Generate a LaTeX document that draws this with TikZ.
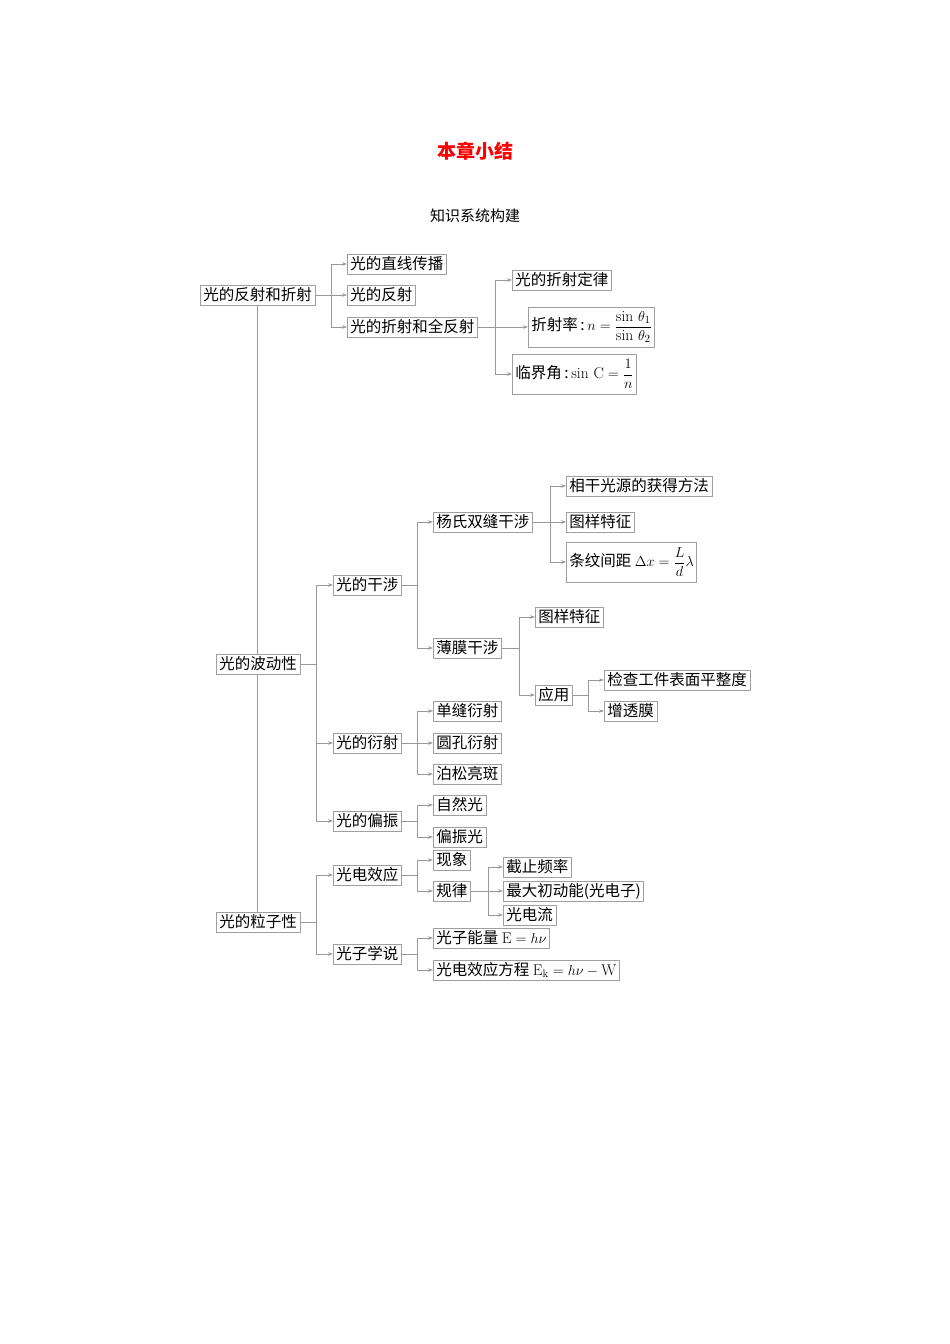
\documentclass[tikz,border=0pt]{standalone}
\usepackage{amsmath}
\usepackage{fontspec}
\newfontfamily\cjk{Noto Sans CJK SC}
\usetikzlibrary{arrows.meta,backgrounds}
\begin{document}
\begin{tikzpicture}[x=1pt,y=-1pt,
  bx/.style={draw=gray!75,line width=0.8pt,fill=white,anchor=west,inner xsep=3pt,inner ysep=1pt,minimum height=20pt,font=\cjk\fontsize{15.5}{17}\selectfont},
  ln/.style={draw=gray!80,line width=0.7pt},
  ar/.style={ln,-{Stealth[length=5pt,width=3.5pt]}}]
\useasboundingbox (0,0) rectangle (950,1344);
\node[font=\cjk\bfseries\fontsize{19}{22}\selectfont,text=red] (t) at (475,151) {本章小结};
\node[font=\cjk\fontsize{15}{18}\selectfont] (t2) at (475,216) {知识系统构建};
% level 0
\node[bx] (A) at (200,295) {光的反射和折射};
\node[bx] (B) at (216,664) {光的波动性};
\node[bx] (C) at (216,922) {光的粒子性};
% A
\node[bx] (a1) at (347,264) {光的直线传播};
\node[bx] (a2) at (347,295) {光的反射};
\node[bx] (a3) at (347,327) {光的折射和全反射};
\node[bx] (a31) at (512,280) {光的折射定律};
\node[bx,minimum height=40pt] (a32) at (528,327) {折射率\,:\,$n=\dfrac{\sin\,\theta_1}{\sin\,\theta_2}$};
\node[bx,minimum height=40pt] (a33) at (512,374) {临界角\,:\,$\sin\,\mathrm{C}=\dfrac{1}{n}$};
% B
\node[bx] (b1) at (333,585) {光的干涉};
\node[bx] (b2) at (333,743) {光的衍射};
\node[bx] (b3) at (333,821) {光的偏振};
\node[bx] (b11) at (433,522) {杨氏双缝干涉};
\node[bx] (b12) at (433,648) {薄膜干涉};
\node[bx] (b111) at (566,486) {相干光源的获得方法};
\node[bx] (b112) at (566,522) {图样特征};
\node[bx,minimum height=40pt] (b113) at (566,562) {条纹间距 $\Delta x=\dfrac{L}{d}\lambda$};
\node[bx] (b121) at (535,617) {图样特征};
\node[bx] (b122) at (535,695) {应用};
\node[bx] (b1221) at (604,680) {检查工件表面平整度};
\node[bx] (b1222) at (604,711) {增透膜};
\node[bx] (b21) at (433,711) {单缝衍射};
\node[bx] (b22) at (433,743) {圆孔衍射};
\node[bx] (b23) at (433,774) {泊松亮斑};
\node[bx] (b31) at (433,805) {自然光};
\node[bx] (b32) at (433,837) {偏振光};
% C
\node[bx] (c1) at (333,875) {光电效应};
\node[bx] (c2) at (333,954) {光子学说};
\node[bx] (c11) at (433,860) {现象};
\node[bx] (c12) at (433,891) {规律};
\node[bx] (c121) at (503,867) {截止频率};
\node[bx] (c122) at (503,891) {最大初动能(光电子)};
\node[bx] (c123) at (503,915) {光电流};
\node[bx] (c21) at (433,938) {光子能量 $\mathrm{E}=h\nu$};
\node[bx] (c22) at (433,970) {光电效应方程 $\mathrm{E_k}=h\nu-\mathrm{W}$};
% bus coordinates
\coordinate (xA) at (331,0);
\coordinate (xa3) at (495,0);
\coordinate (xB) at (316,0);
\coordinate (xb1) at (417,0);
\coordinate (xb11) at (550,0);
\coordinate (xb12) at (519,0);
\coordinate (xb122) at (588,0);
\coordinate (xc12) at (488,0);
\begin{scope}[on background layer]
\draw[ln] (A.south) -- (A.south |- C.north);
% A
\draw[ln] (A.east) -- (A.east -| xA);
\draw[ln] (a1.west -| xA) -- (a3.west -| xA);
\foreach \n in {a1,a2,a3} \draw[ar] (\n.west -| xA) -- (\n.west);
\draw[ar] (a3.east) -- (a32.west);
\draw[ln] (a31.west -| xa3) -- (a33.west -| xa3);
\foreach \n in {a31,a33} \draw[ar] (\n.west -| xa3) -- (\n.west);
% B
\draw[ln] (B.east) -- (B.east -| xB);
\draw[ln] (b1.west -| xB) -- (b3.west -| xB);
\foreach \n in {b1,b2,b3} \draw[ar] (\n.west -| xB) -- (\n.west);
\draw[ln] (b1.east) -- (b1.east -| xb1);
\draw[ln] (b11.west -| xb1) -- (b12.west -| xb1);
\foreach \n in {b11,b12} \draw[ar] (\n.west -| xb1) -- (\n.west);
\draw[ln] (b11.east) -- (b11.east -| xb11);
\draw[ln] (b111.west -| xb11) -- (b113.west -| xb11);
\foreach \n in {b111,b112,b113} \draw[ar] (\n.west -| xb11) -- (\n.west);
\draw[ln] (b12.east) -- (b12.east -| xb12);
\draw[ln] (b121.west -| xb12) -- (b122.west -| xb12);
\foreach \n in {b121,b122} \draw[ar] (\n.west -| xb12) -- (\n.west);
\draw[ln] (b122.east) -- (b122.east -| xb122);
\draw[ln] (b1221.west -| xb122) -- (b1222.west -| xb122);
\foreach \n in {b1221,b1222} \draw[ar] (\n.west -| xb122) -- (\n.west);
\draw[ln] (b2.east) -- (b2.east -| xb1);
\draw[ln] (b21.west -| xb1) -- (b23.west -| xb1);
\foreach \n in {b21,b22,b23} \draw[ar] (\n.west -| xb1) -- (\n.west);
\draw[ln] (b3.east) -- (b3.east -| xb1);
\draw[ln] (b31.west -| xb1) -- (b32.west -| xb1);
\foreach \n in {b31,b32} \draw[ar] (\n.west -| xb1) -- (\n.west);
% C
\draw[ln] (C.east) -- (C.east -| xB);
\draw[ln] (c1.west -| xB) -- (c2.west -| xB);
\foreach \n in {c1,c2} \draw[ar] (\n.west -| xB) -- (\n.west);
\draw[ln] (c1.east) -- (c1.east -| xb1);
\draw[ln] (c11.west -| xb1) -- (c12.west -| xb1);
\foreach \n in {c11,c12} \draw[ar] (\n.west -| xb1) -- (\n.west);
\draw[ln] (c12.east) -- (c12.east -| xc12);
\draw[ln] (c121.west -| xc12) -- (c123.west -| xc12);
\foreach \n in {c121,c122,c123} \draw[ar] (\n.west -| xc12) -- (\n.west);
\draw[ln] (c2.east) -- (c2.east -| xb1);
\draw[ln] (c21.west -| xb1) -- (c22.west -| xb1);
\foreach \n in {c21,c22} \draw[ar] (\n.west -| xb1) -- (\n.west);
\end{scope}
\end{tikzpicture}
\end{document}
